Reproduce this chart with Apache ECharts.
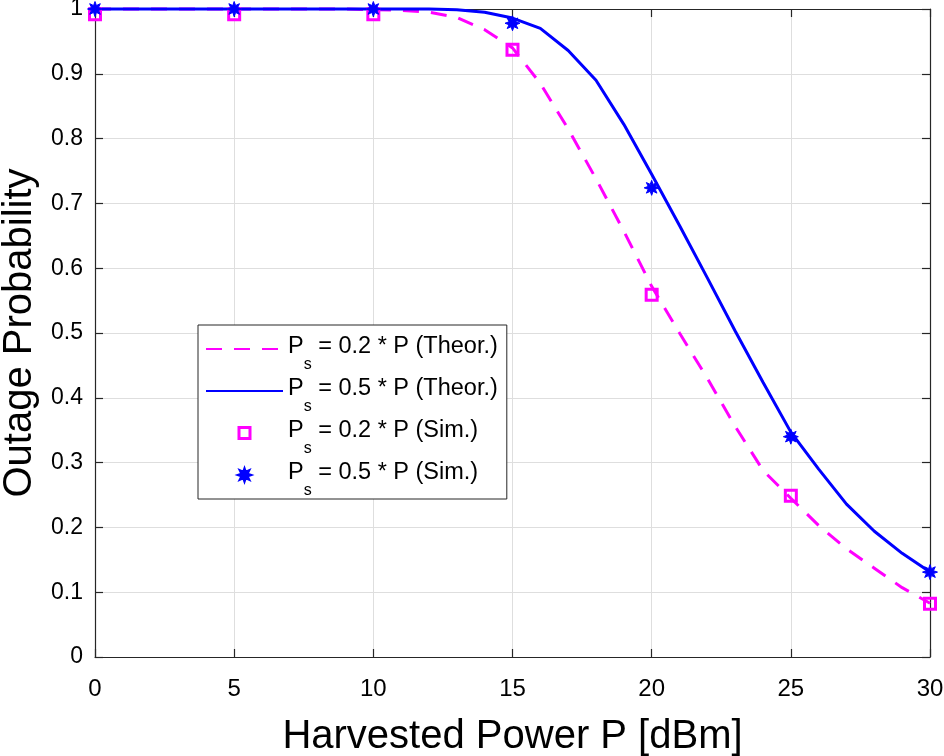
<!DOCTYPE html>
<html>
<head>
<meta charset="utf-8">
<script src="https://cdn.jsdelivr.net/npm/echarts@6/dist/echarts.min.js"></script>
<style>
html,body{margin:0;padding:0;background:#fff;}
#chart{width:944px;height:756px;}
</style>
</head>
<body>
<div id="chart"></div>
<script>
// ---- data ----
const powerDbm = [0,1,2,3,4,5,6,7,8,9,10,11,12,13,14,15,16,17,18,19,20,21,22,23,24,25,26,27,28,29,30];
const theory02 = [1,1,1,1,1,1,1,1,1,1,0.999,0.998,0.995,0.987,0.968,0.94,0.885,0.815,0.738,0.657,0.572,0.5,0.43,0.356,0.288,0.245,0.203,0.167,0.137,0.107,0.083];
const theory05 = [1,1,1,1,1,1,1,1,1,1,1,1,1,0.999,0.995,0.986,0.97,0.936,0.89,0.822,0.745,0.666,0.585,0.503,0.424,0.347,0.29,0.236,0.194,0.16,0.131];
const simPower = [0,5,10,15,20,25,30];
const sim02 = [0.992,0.992,0.992,0.937,0.559,0.249,0.082];
const sim05 = [1,1,1,0.978,0.724,0.34,0.131];
const xTicks = [0,5,10,15,20,25,30];
const yTicks = ['0','0.1','0.2','0.3','0.4','0.5','0.6','0.7','0.8','0.9','1'];
const seriesNames = ['Ps02T','Ps05T','Ps02S','Ps05S'];
const legendText = {
  Ps02T: ['0.2', 'Theor.'],
  Ps05T: ['0.5', 'Theor.'],
  Ps02S: ['0.2', 'Sim.'],
  Ps05S: ['0.5', 'Sim.']
};

const pair = (xs, ys) => xs.map((x, i) => [x, ys[i]]);
const starPath = 'path://M20 10 L14.62 11.91 L17.07 17.07 L11.91 14.62 L10 20 L8.09 14.62 L2.93 17.07 L5.38 11.91 L0 10 L5.38 8.09 L2.93 2.93 L8.09 5.38 L10 0 L11.91 5.38 L17.07 2.93 L14.62 8.09 Z';
// hollow square as a ring (outer clockwise, inner counter-clockwise)
const ringSquare = 'path://M0 0 L14 0 L14 14 L0 14 Z M3 3 L3 11 L11 11 L11 3 Z';
// invisible legend marker for pure line series
const noMarker = 'path://M0 0 L0.01 0 L0 0.01 Z M100 100 L99.99 100 L100 99.99 Z';
const FONT = '"Liberation Sans", Arial, Helvetica, sans-serif';
const AX = '#262626';
const GRIDC = '#dedede';

const chart = echarts.init(document.getElementById('chart'), null, {renderer: 'canvas'});
const option = {
  backgroundColor: '#fff',
  animation: false,
  textStyle: {fontFamily: FONT},
  grid: {left: 95, right: 14, top: 9, bottom: 99, show: false, outerBoundsMode: 'none', containLabel: false},
  legend: {
    orient: 'vertical',
    left: 198,
    top: 325,
    data: seriesNames,
    backgroundColor: '#fff',
    borderColor: AX,
    borderWidth: 1,
    borderRadius: 0,
    padding: [10, 9, 0, 7],
    itemWidth: 77,
    itemHeight: 14,
    itemGap: 4,
    formatter: function (name) {
      const t = legendText[name];
      return '{p|P}{s|s}{t| = ' + t[0] + ' * P (' + t[1] + ')}';
    },
    textStyle: {
      fontFamily: FONT,
      color: '#000',
      padding: [0, 0, 0, 0],
      rich: {
        p: {fontSize: 23.5, lineHeight: 28, verticalAlign: 'top', fontFamily: FONT, color: '#000'},
        s: {fontSize: 16, lineHeight: 16, padding: [22, 0, 0, 0], verticalAlign: 'top', fontFamily: FONT, color: '#000'},
        t: {fontSize: 23.5, lineHeight: 28, verticalAlign: 'top', fontFamily: FONT, color: '#000'}
      }
    }
  },
  xAxis: [{
    type: 'value', min: xTicks[0], max: xTicks[xTicks.length - 1], interval: 5,
    position: 'bottom',
    name: 'Harvested Power P [dBm]', nameLocation: 'middle', nameGap: 60,
    nameTextStyle: {fontSize: 40, color: '#000', fontFamily: FONT},
    axisLine: {show: true, onZero: false, lineStyle: {color: AX, width: 1.2}},
    axisTick: {show: true, inside: true, length: 8, lineStyle: {color: AX, width: 1.2}},
    axisLabel: {fontSize: 24, color: '#000', margin: 20, fontFamily: FONT},
    splitLine: {show: true, lineStyle: {color: GRIDC, width: 1}}
  }, {
    type: 'value', min: xTicks[0], max: xTicks[xTicks.length - 1], interval: 5,
    position: 'top',
    axisLine: {show: true, onZero: false, lineStyle: {color: AX, width: 1.2}},
    axisTick: {show: true, inside: true, length: 8, lineStyle: {color: AX, width: 1.2}},
    axisLabel: {show: false},
    splitLine: {show: false}
  }],
  yAxis: [{
    type: 'value', min: 0, max: 1, interval: 0.1,
    position: 'left',
    name: 'Outage Probability', nameLocation: 'middle', nameGap: 53,
    nameTextStyle: {fontSize: 40, color: '#000', fontFamily: FONT},
    axisLine: {show: true, onZero: false, lineStyle: {color: AX, width: 1.2}},
    axisTick: {show: true, inside: true, length: 8, lineStyle: {color: AX, width: 1.2}},
    axisLabel: {fontSize: 23, color: '#000', margin: 12, fontFamily: FONT,
      formatter: function (v) { return yTicks[Math.round(v * 10)]; }},
    splitLine: {show: true, lineStyle: {color: GRIDC, width: 1}}
  }, {
    type: 'value', min: 0, max: 1, interval: 0.1,
    position: 'right',
    axisLine: {show: true, onZero: false, lineStyle: {color: AX, width: 1.2}},
    axisTick: {show: true, inside: true, length: 8, lineStyle: {color: AX, width: 1.2}},
    axisLabel: {show: false},
    splitLine: {show: false}
  }],
  series: [{
    name: 'Ps02T', type: 'line', xAxisIndex: 0, yAxisIndex: 0,
    data: pair(powerDbm, theory02),
    symbol: noMarker, showSymbol: false, smooth: false, clip: false, z: 3,
    lineStyle: {color: '#ff00ff', width: 3, type: [16, 12]},
    itemStyle: {color: '#ff00ff', borderWidth: 0}
  }, {
    name: 'Ps05T', type: 'line', xAxisIndex: 0, yAxisIndex: 0,
    data: pair(powerDbm, theory05),
    symbol: noMarker, showSymbol: false, smooth: false, clip: false, z: 4,
    lineStyle: {color: '#0000ff', width: 3},
    itemStyle: {color: '#0000ff', borderWidth: 0}
  }, {
    name: 'Ps02S', type: 'scatter', xAxisIndex: 0, yAxisIndex: 0,
    data: pair(simPower, sim02),
    symbol: ringSquare, symbolSize: 14, symbolKeepAspect: true, clip: false, z: 5,
    itemStyle: {color: '#ff00ff', borderWidth: 0, opacity: 1}
  }, {
    name: 'Ps05S', type: 'scatter', xAxisIndex: 0, yAxisIndex: 0,
    data: pair(simPower, sim05),
    symbol: starPath, symbolSize: 15, symbolKeepAspect: true, clip: false, z: 6,
    itemStyle: {color: '#0000ff', borderColor: '#0000ff', borderWidth: 1, opacity: 1}
  }]
};
chart.setOption(option);
</script>
</body>
</html>
